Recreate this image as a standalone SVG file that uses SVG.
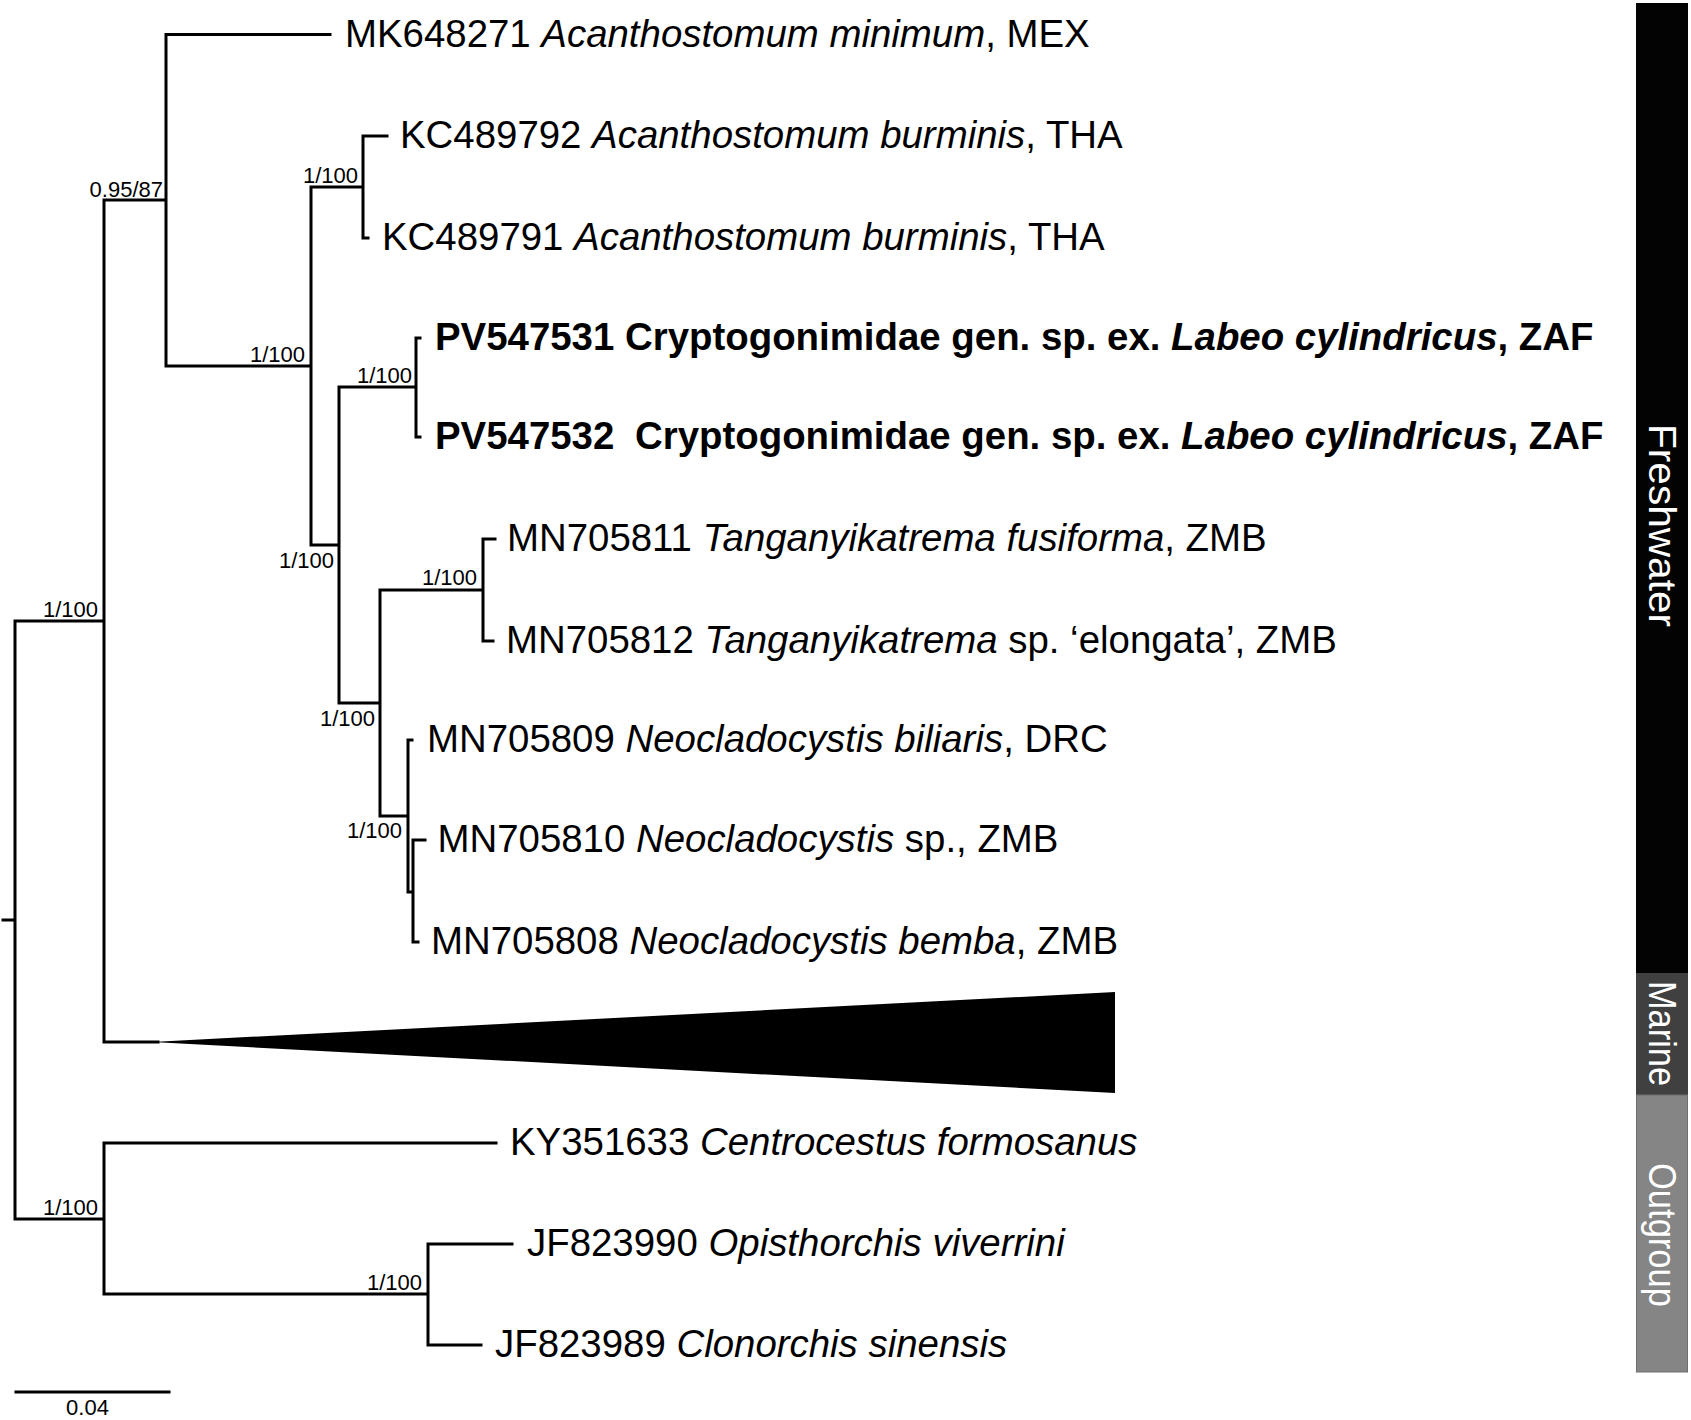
<svg xmlns="http://www.w3.org/2000/svg" width="1691" height="1420" viewBox="0 0 1691 1420">
<style>
.br{fill:none;stroke:#000;stroke-width:3;stroke-linecap:square}
.tip{font-family:"Liberation Sans",Arial,sans-serif;font-size:38.4px;fill:#000}
.b{font-weight:bold}
.i{font-style:italic}
.sup{font-family:"Liberation Sans",Arial,sans-serif;font-size:22px;fill:#000;text-anchor:end}
.bar{font-family:"Liberation Sans",Arial,sans-serif;font-size:38px;fill:#fff;text-anchor:middle}
</style>
<rect width="1691" height="1420" fill="#fff"/>
<g id="connectors">
<path class="br" d="M3,920H15M15,621V1219M15,621H104M104,200V1042M104,200H166M166,34.5V366M166,34.5H330M166,366H311M311,187V545M311,187H363M363,136V238M363,136H387M363,238H368M311,545H339M339,387V703M339,387H416M416,338V437M416,338H420M416,437H420M339,703H380M380,590V816M380,590H483M483,539V641M483,539H495M483,641H493M380,816H408M408,740V892M408,740H412M408,892H413M413,840V942M413,840H425M413,942H418M104,1042H158M15,1219H104M104,1143V1294M104,1143H496M104,1294H428M428,1244V1345M428,1244H512M428,1345H481"/>
<polygon points="152,1042 1115,992 1115,1093" fill="#000"/>
<path class="br" d="M16,1392H169"/>
</g>
<g id="support">
<text class="sup" x="163" y="197">0.95/87</text>
<text class="sup" x="358" y="183">1/100</text>
<text class="sup" x="305" y="362">1/100</text>
<text class="sup" x="412" y="383">1/100</text>
<text class="sup" x="334" y="568">1/100</text>
<text class="sup" x="375" y="726">1/100</text>
<text class="sup" x="477" y="585">1/100</text>
<text class="sup" x="402" y="838">1/100</text>
<text class="sup" x="98" y="617">1/100</text>
<text class="sup" x="98" y="1215">1/100</text>
<text class="sup" x="422" y="1290">1/100</text>
<text class="sup" x="87.5" y="1415" style="text-anchor:middle">0.04</text>
</g>
<g id="tip-MK648271"><text class="tip" x="345" y="46.5">MK648271 <tspan class="i">Acanthostomum minimum</tspan>, MEX</text></g>
<g id="tip-KC489792"><text class="tip" x="400" y="147.5">KC489792 <tspan class="i">Acanthostomum burminis</tspan>, THA</text></g>
<g id="tip-KC489791"><text class="tip" x="382" y="249.5">KC489791 <tspan class="i">Acanthostomum burminis</tspan>, THA</text></g>
<g id="tip-PV547531"><text class="tip b" x="435" y="349.5">PV547531 Cryptogonimidae gen. sp. ex. <tspan class="i">Labeo cylindricus</tspan>, ZAF</text></g>
<g id="tip-PV547532"><text class="tip b" x="435" y="448.5">PV547532 <tspan dx="10">Cryptogonimidae gen. sp. ex. </tspan><tspan class="i">Labeo cylindricus</tspan>, ZAF</text></g>
<g id="tip-MN705811"><text class="tip" x="507" y="550.5">MN705811 <tspan class="i">Tanganyikatrema fusiforma</tspan>, ZMB</text></g>
<g id="tip-MN705812"><text class="tip" x="506" y="652.5">MN705812 <tspan class="i">Tanganyikatrema</tspan> sp. ‘elongata’, ZMB</text></g>
<g id="tip-MN705809"><text class="tip" x="427" y="751.5">MN705809 <tspan class="i">Neocladocystis biliaris</tspan>, DRC</text></g>
<g id="tip-MN705810"><text class="tip" x="437.5" y="851.5">MN705810 <tspan class="i">Neocladocystis</tspan> sp., ZMB</text></g>
<g id="tip-MN705808"><text class="tip" x="431" y="953.5">MN705808 <tspan class="i">Neocladocystis bemba</tspan>, ZMB</text></g>
<g id="tip-KY351633"><text class="tip" x="510" y="1154.5">KY351633 <tspan class="i">Centrocestus formosanus</tspan></text></g>
<g id="tip-JF823990"><text class="tip" x="527" y="1255.5">JF823990 <tspan class="i">Opisthorchis viverrini</tspan></text></g>
<g id="tip-JF823989"><text class="tip" x="495" y="1356.5">JF823989 <tspan class="i">Clonorchis sinensis</tspan></text></g>
<g id="group-freshwater">
<rect x="1636" y="3" width="52" height="970" fill="#030303"/>
<text class="bar" transform="translate(1649,525.5) rotate(90)" textLength="203" lengthAdjust="spacingAndGlyphs">Freshwater</text>
</g>
<g id="group-marine">
<rect x="1636" y="973" width="52" height="122" fill="#404040"/>
<text class="bar" transform="translate(1649,1033.5) rotate(90)" textLength="105" lengthAdjust="spacingAndGlyphs">Marine</text>
</g>
<g id="group-outgroup">
<rect x="1636.5" y="1095" width="51" height="277" fill="#858585" stroke="#6e6e6e" stroke-width="1"/>
<text class="bar" transform="translate(1649,1235) rotate(90)" textLength="144" lengthAdjust="spacingAndGlyphs">Outgroup</text>
</g>
</svg>
